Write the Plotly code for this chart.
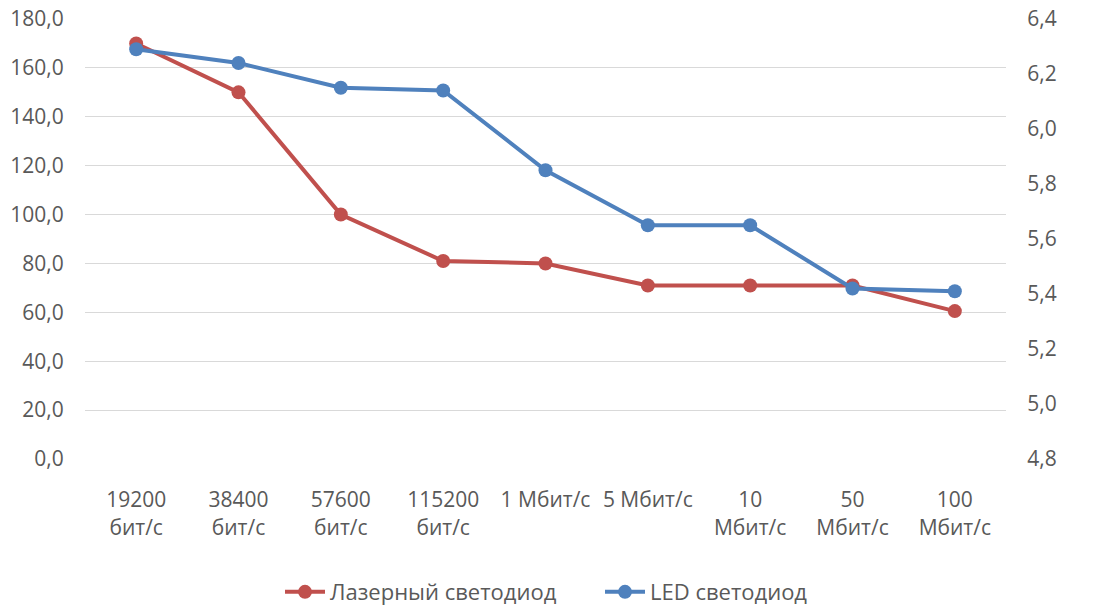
import plotly.graph_objects as go

# Data transfer rates (category axis)
categories = [
    "19200<br>бит/с", "38400<br>бит/с", "57600<br>бит/с", "115200<br>бит/с",
    "1 Мбит/с", "5 Мбит/с", "10<br>Мбит/с", "50<br>Мбит/с", "100<br>Мбит/с",
]

# Laser diode series (left axis)
laser_values = [170, 150, 100, 81, 80, 71, 71, 71, 60.5]

# LED series (right axis)
led_values = [6.29, 6.24, 6.15, 6.14, 5.85, 5.65, 5.65, 5.42, 5.41]

left_ticks = [0, 20, 40, 60, 80, 100, 120, 140, 160, 180]
right_ticks = [4.8, 5.0, 5.2, 5.4, 5.6, 5.8, 6.0, 6.2, 6.4]

RED = "#C0504D"
BLUE = "#4F81BD"
TEXT = "#595959"
FONT = "Open Sans, Lato, sans-serif"

fig = go.Figure()
fig.add_trace(go.Scatter(
    x=categories, y=laser_values, name="Лазерный светодиод",
    mode="lines+markers",
    line=dict(color=RED, width=4),
    marker=dict(color=RED, size=14),
    yaxis="y",
))
fig.add_trace(go.Scatter(
    x=categories, y=led_values, name="LED светодиод",
    mode="lines+markers",
    line=dict(color=BLUE, width=4),
    marker=dict(color=BLUE, size=14),
    yaxis="y2",
))

fig.update_layout(
    width=1108, height=606,
    margin=dict(l=85, r=102, t=19, b=147, autoexpand=False),
    paper_bgcolor="white", plot_bgcolor="white",
    separators=", ",
    font=dict(family=FONT, size=21, color=TEXT),
    showlegend=True,
    legend=dict(
        orientation="h", xref="container", yref="container",
        x=280 / 1108, y=0.023, xanchor="left", yanchor="middle",
        font=dict(size=22, color=TEXT),
        entrywidth=265, entrywidthmode="pixels",
        itemwidth=40,
    ),
    xaxis=dict(
        type="category", showgrid=False, zeroline=False, showline=False,
        ticks="outside", ticklen=22, tickcolor="rgba(0,0,0,0)",
        range=[-0.5, len(categories) - 0.5], automargin=False,
    ),
    yaxis=dict(
        range=[0, 180], tickvals=left_ticks, tickformat=".1f",
        showgrid=True, gridcolor="#D9D9D9", gridwidth=1,
        zeroline=False, showline=False,
        ticks="outside", ticklen=16, tickcolor="rgba(0,0,0,0)",
        automargin=False,
    ),
    yaxis2=dict(
        range=[4.8, 6.4], tickvals=right_ticks, tickformat=".1f",
        overlaying="y", side="right", showgrid=False,
        zeroline=False, showline=False,
        ticks="outside", ticklen=16, tickcolor="rgba(0,0,0,0)",
        automargin=False,
    ),
)

fig.write_html("out.html")
